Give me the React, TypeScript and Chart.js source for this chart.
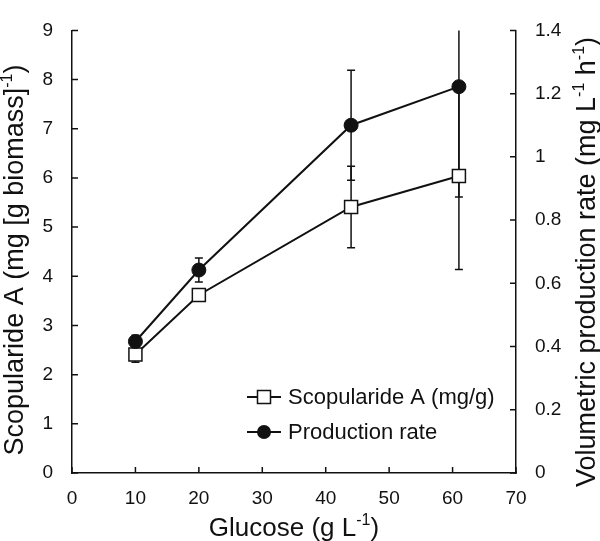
import React, { useEffect, useRef } from "react";
import { Chart, registerables } from "chart.js";

Chart.register(...registerables);

const glucose = [10, 20, 44, 61];
const scopularide = [2.41, 3.62, 5.41, 6.04];
const scopularideErr = [0.16, 0.1, 0.83, 1.9];
const productionRate = [0.416, 0.642, 1.1, 1.222];
const productionErr = [0.02, 0.038, 0.174, 0.349];

const xTicks = { min: 0, max: 70, step: 10 };
const yTicks = { min: 0, max: 9, step: 1 };
const y1Ticks = { min: 0, max: 1.4, step: 0.2 };

const seriesNames = ["Scopularide A (mg/g)", "Production rate"];

const FONT = '"Liberation Sans", Arial, Helvetica, sans-serif';
const INK = "#111";

type Part = { t: string; sup?: boolean };

function drawRich(ctx: CanvasRenderingContext2D, parts: Part[], size: number, cx: number, baseY: number) {
  const supSize = Math.round(size * 0.6);
  let total = 0;
  const widths = parts.map((p) => {
    ctx.font = `${p.sup ? supSize : size}px ${FONT}`;
    const w = ctx.measureText(p.t).width;
    total += w;
    return w;
  });
  let x = cx - total / 2;
  ctx.textBaseline = "alphabetic";
  ctx.textAlign = "left";
  parts.forEach((p, i) => {
    ctx.font = `${p.sup ? supSize : size}px ${FONT}`;
    ctx.fillText(p.t, x, p.sup ? baseY - size * 0.42 : baseY);
    x += widths[i];
  });
}

const xTitle: Part[] = [{ t: "Glucose (g L" }, { t: "-1", sup: true }, { t: ")" }];
const yTitle: Part[] = [{ t: "Scopularide A (mg [g biomass]" }, { t: "-1", sup: true }, { t: ")" }];
const y1Title: Part[] = [
  { t: "Volumetric production rate (mg L" },
  { t: "-1", sup: true },
  { t: " h" },
  { t: "-1", sup: true },
  { t: ")" },
];

const errorBarsPlugin = {
  id: "errorBars",
  beforeDatasetsDraw(chart: any) {
    const ctx = chart.ctx as CanvasRenderingContext2D;
    const area = chart.chartArea;
    const xs = chart.scales.x;
    ctx.save();
    ctx.beginPath();
    ctx.rect(area.left, area.top, area.right - area.left, area.bottom - area.top);
    ctx.clip();
    ctx.strokeStyle = INK;
    ctx.lineWidth = 1.5;
    const sets: [number[], number[], string][] = [
      [scopularide, scopularideErr, "y"],
      [productionRate, productionErr, "y1"],
    ];
    sets.forEach(([vals, errs, axis]) => {
      const ys = chart.scales[axis];
      vals.forEach((v, i) => {
        const px = xs.getPixelForValue(glucose[i]);
        const top = ys.getPixelForValue(v + errs[i]);
        const bot = ys.getPixelForValue(v - errs[i]);
        ctx.beginPath();
        ctx.moveTo(px, top);
        ctx.lineTo(px, bot);
        ctx.moveTo(px - 4, top);
        ctx.lineTo(px + 4, top);
        ctx.moveTo(px - 4, bot);
        ctx.lineTo(px + 4, bot);
        ctx.stroke();
      });
    });
    ctx.restore();
  },
  afterDraw(chart: any) {
    const ctx = chart.ctx as CanvasRenderingContext2D;
    const area = chart.chartArea;
    const { x, y, y1 } = chart.scales;
    ctx.save();
    ctx.strokeStyle = INK;
    ctx.lineWidth = 1.5;
    const T = 6;
    ctx.beginPath();
    x.ticks.forEach((t: any) => {
      const p = x.getPixelForValue(t.value);
      ctx.moveTo(p, area.bottom);
      ctx.lineTo(p, area.bottom - T);
    });
    y.ticks.forEach((t: any) => {
      const p = y.getPixelForValue(t.value);
      ctx.moveTo(area.left, p);
      ctx.lineTo(area.left + T, p);
    });
    y1.ticks.forEach((t: any) => {
      const p = y1.getPixelForValue(t.value);
      ctx.moveTo(area.right, p);
      ctx.lineTo(area.right - T, p);
    });
    ctx.stroke();

    // axis titles
    ctx.fillStyle = INK;
    drawRich(ctx, xTitle, 26, (area.left + area.right) / 2, 536);
    ctx.save();
    ctx.translate(23, 260);
    ctx.rotate(-Math.PI / 2);
    drawRich(ctx, yTitle, 27, 0, 0);
    ctx.restore();
    ctx.save();
    ctx.translate(595, 262);
    ctx.rotate(-Math.PI / 2);
    drawRich(ctx, y1Title, 27, 0, 0);
    ctx.restore();

    // legend
    const lx0 = 247;
    const lx1 = 281;
    const mx = 264;
    const rows = [397, 432];
    ctx.lineWidth = 2;
    rows.forEach((ry, i) => {
      ctx.beginPath();
      ctx.moveTo(lx0, ry);
      ctx.lineTo(lx1, ry);
      ctx.stroke();
      if (i === 0) {
        ctx.fillStyle = "#fff";
        ctx.fillRect(mx - 6.5, ry - 6.5, 13, 13);
        ctx.lineWidth = 1.5;
        ctx.strokeRect(mx - 6.5, ry - 6.5, 13, 13);
        ctx.lineWidth = 2;
      } else {
        ctx.fillStyle = INK;
        ctx.beginPath();
        ctx.arc(mx, ry, 7, 0, Math.PI * 2);
        ctx.fill();
      }
      ctx.fillStyle = INK;
      ctx.font = `22px ${FONT}`;
      ctx.textAlign = "left";
      ctx.textBaseline = "middle";
      ctx.fillText(seriesNames[i], 288, ry + 1);
    });
    ctx.restore();
  },
};

export default function App() {
  const ref = useRef<HTMLCanvasElement | null>(null);
  useEffect(() => {
    if (!ref.current) return;
    const tickFont = { family: FONT, size: 19 };
    const chart = new Chart(ref.current, {
      type: "line",
      data: {
        datasets: [
          {
            label: seriesNames[0],
            data: glucose.map((g, i) => ({ x: g, y: scopularide[i] })),
            yAxisID: "y",
            borderColor: INK,
            borderWidth: 2,
            pointStyle: "rect",
            pointRadius: 9.2,
            pointBackgroundColor: "#fff",
            pointBorderColor: INK,
            pointBorderWidth: 1.5,
            order: 1,
          },
          {
            label: seriesNames[1],
            data: glucose.map((g, i) => ({ x: g, y: productionRate[i] })),
            yAxisID: "y1",
            borderColor: INK,
            borderWidth: 2,
            pointStyle: "circle",
            pointRadius: 7,
            pointBackgroundColor: INK,
            pointBorderColor: INK,
            pointBorderWidth: 1,
            order: 0,
          },
        ],
      },
      options: {
        responsive: false,
        animation: false,
        layout: { padding: { top: 9, left: 0, right: 0, bottom: 0 } },
        plugins: { legend: { display: false }, tooltip: { enabled: false } },
        scales: {
          x: {
            type: "linear",
            min: xTicks.min,
            max: xTicks.max,
            ticks: { stepSize: xTicks.step, font: tickFont, color: INK, padding: 14, maxRotation: 0 },
            grid: { drawOnChartArea: false, drawTicks: false },
            border: { display: true, color: INK, width: 1.5 },
            afterFit: (s: any) => { s.height = 68; },
          },
          y: {
            type: "linear",
            position: "left",
            min: yTicks.min,
            max: yTicks.max,
            ticks: { stepSize: yTicks.step, font: tickFont, color: INK, padding: 19 },
            grid: { drawOnChartArea: false, drawTicks: false },
            border: { display: true, color: INK, width: 1.5 },
            afterFit: (s: any) => { s.width = 72; },
          },
          y1: {
            type: "linear",
            position: "right",
            min: y1Ticks.min,
            max: y1Ticks.max,
            ticks: {
              stepSize: y1Ticks.step,
              font: tickFont,
              color: INK,
              padding: 19,
              callback: (v: any) => String(Math.round(Number(v) * 10) / 10),
            },
            grid: { drawOnChartArea: false, drawTicks: false },
            border: { display: true, color: INK, width: 1.5 },
            afterFit: (s: any) => { s.width = 84; },
          },
        },
      },
      plugins: [errorBarsPlugin],
    } as any);
    return () => chart.destroy();
  }, []);
  return (
    <div style={{ position: "absolute", left: 0, top: 0, width: 600, height: 541, background: "#fff" }}>
      <canvas ref={ref} width={600} height={541} />
    </div>
  );
}
